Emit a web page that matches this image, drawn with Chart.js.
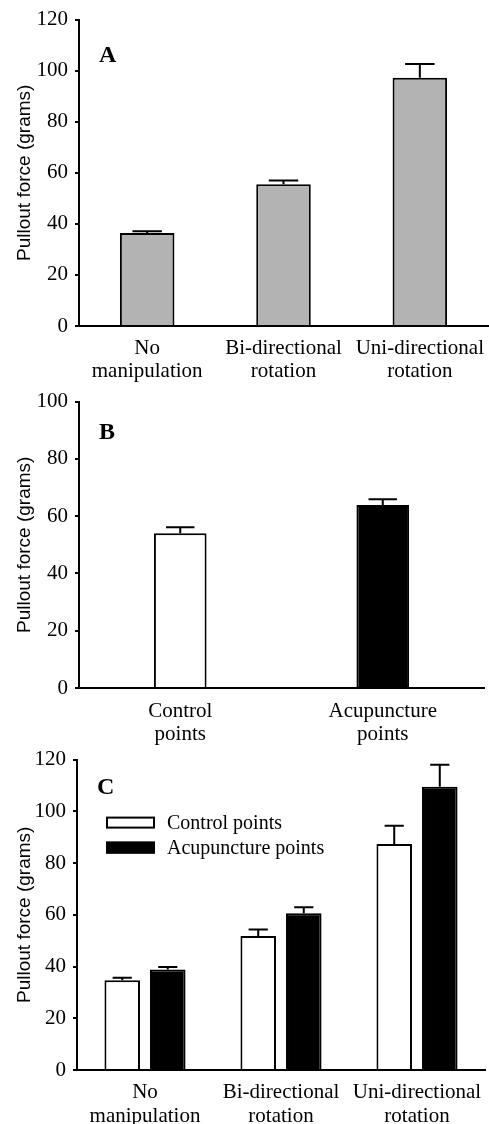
<!DOCTYPE html>
<html lang="en">
<head>
    <meta charset="UTF-8">
    <title>Pullout force</title>
    <script src="https://cdn.jsdelivr.net/npm/chart.js"></script>
    <style>
        body { margin: 0; background: #fff; }
        .panel { position: absolute; left: 0; }
        canvas { display: block; }
    </style>
</head>
<body>
    <div class="panel" style="top:0px"><canvas id="chartA" width="489" height="382"></canvas></div>
    <div class="panel" style="top:382px"><canvas id="chartB" width="489" height="370"></canvas></div>
    <div class="panel" style="top:740px"><canvas id="chartC" width="489" height="384"></canvas></div>

    <script>
        // Panel A: manipulation type
        const labelsA = [['No', 'manipulation'], ['Bi-directional', 'rotation'], ['Uni-directional', 'rotation']];
        const forceA = [36.4, 55.5, 97.2];
        const errA = [0.7, 1.5, 5.4];

        // Panel B: point type
        const labelsB = [['Control', 'points'], ['Acupuncture', 'points']];
        const forceB = [54.0, 63.9];
        const errB = [2.1, 2.0];

        // Panel C: both
        const labelsC = [['No', 'manipulation'], ['Bi-directional', 'rotation'], ['Uni-directional', 'rotation']];
        const controlC = [34.7, 51.8, 87.4];
        const controlErrC = [1.0, 2.5, 7.0];
        const acuC = [38.9, 60.6, 109.5];
        const acuErrC = [0.9, 2.3, 8.5];

        const serif = 'Liberation Serif';

        // upper half error bars drawn off the y scale
        const errorBars = {
            id: 'errorBars',
            afterDatasetsDraw(chart) {
                const ctx = chart.ctx;
                const y = chart.scales.y;
                chart.data.datasets.forEach((ds, i) => {
                    chart.getDatasetMeta(i).data.forEach((bar, j) => {
                        const top = y.getPixelForValue(ds.data[j] + ds.errors[j]);
                        const half = bar.width * 0.27;
                        ctx.save();
                        ctx.strokeStyle = '#000';
                        ctx.lineWidth = 2;
                        ctx.beginPath();
                        ctx.moveTo(bar.x, bar.y);
                        ctx.lineTo(bar.x, top);
                        ctx.moveTo(bar.x - half, top);
                        ctx.lineTo(bar.x + half, top);
                        ctx.stroke();
                        ctx.restore();
                    });
                });
            }
        };

        // the big A / B / C in the corner
        const panelLetter = {
            id: 'panelLetter',
            afterDraw(chart, args, opts) {
                const ctx = chart.ctx;
                ctx.save();
                ctx.fillStyle = '#000';
                ctx.font = 'bold 24px "' + serif + '"';
                ctx.textBaseline = 'alphabetic';
                ctx.fillText(opts.text, chart.chartArea.left + opts.dx, chart.chartArea.top + opts.dy);
                ctx.restore();
            }
        };

        // legend inside the plot, boxes stacked
        const boxLegend = {
            id: 'boxLegend',
            afterDraw(chart, args, opts) {
                if (!opts.show) return;
                const ctx = chart.ctx;
                const x0 = chart.chartArea.left + opts.dx;
                let y0 = chart.chartArea.top + opts.dy;
                ctx.save();
                ctx.font = '20px "' + serif + '"';
                ctx.textBaseline = 'middle';
                chart.data.datasets.forEach(ds => {
                    ctx.fillStyle = ds.backgroundColor;
                    ctx.fillRect(x0, y0, 49, 12);
                    ctx.strokeStyle = '#000';
                    ctx.lineWidth = 2;
                    ctx.strokeRect(x0 + 1, y0 + 1, 47, 10);
                    ctx.fillStyle = '#000';
                    ctx.fillText(ds.label, x0 + 61, y0 + 7);
                    y0 += 25;
                });
                ctx.restore();
            }
        };

        function makeChart(id, labels, datasets, o) {
            return new Chart(document.getElementById(id), {
                type: 'bar',
                data: { labels: labels, datasets: datasets },
                options: {
                    responsive: false,
                    animation: false,
                    layout: { padding: { top: o.padTop, right: o.padRight, left: 0, bottom: 0 } },
                    plugins: {
                        legend: { display: false },
                        tooltip: { enabled: false },
                        panelLetter: { text: o.letter, dx: 20, dy: o.letterY },
                        boxLegend: { show: !!o.legend, dx: 29, dy: 57 }
                    },
                    scales: {
                        x: {
                            grid: { display: false, drawTicks: false },
                            border: { color: '#000', width: 2 },
                            ticks: { color: '#000', font: { family: serif, size: 21, lineHeight: o.lineH }, padding: o.xPad, maxRotation: 0, autoSkip: false },
                            afterFit: s => {
                                s.height = o.bottomH;
                                // labels fit inside their categories, no extra side room
                                s.paddingLeft = 0;
                                s.paddingRight = 0;
                            }
                        },
                        y: {
                            min: 0,
                            max: o.yMax,
                            ticks: { stepSize: 20, color: '#000', font: { family: serif, size: 21 }, padding: 7 },
                            grid: { drawOnChartArea: false, drawTicks: true, tickLength: 4, color: '#000', lineWidth: 2 },
                            border: { color: '#000', width: 2 },
                            title: {
                                display: true,
                                text: 'Pullout force (grams)',
                                color: '#000',
                                font: { family: 'Liberation Sans', size: 19 },
                                padding: { top: 13, bottom: 0 }
                            },
                            afterFit: s => { s.width = o.leftW; }
                        }
                    }
                },
                plugins: [errorBars, panelLetter, boxLegend]
            });
        }

        makeChart('chartA', labelsA, [{
            label: 'Pullout force',
            data: forceA,
            errors: errA,
            backgroundColor: '#b3b3b3',
            borderColor: '#000',
            borderWidth: 2,
            categoryPercentage: 1.0,
            barPercentage: 0.40
        }], { yMax: 120, leftW: 79, bottomH: 56, padTop: 7, padRight: 1, letter: 'A', letterY: 42, xPad: 11, lineH: 1.1 });

        makeChart('chartB', labelsB, [{
            label: 'Pullout force',
            data: forceB,
            errors: errB,
            backgroundColor: ['#ffffff', '#000000'],
            borderColor: '#000',
            borderWidth: 2,
            categoryPercentage: 1.0,
            barPercentage: 0.26
        }], { yMax: 100, leftW: 79, bottomH: 64, padTop: 17, padRight: 5, letter: 'B', letterY: 37, xPad: 12, lineH: 1.1 });

        makeChart('chartC', labelsC, [{
            label: 'Control points',
            data: controlC,
            errors: controlErrC,
            backgroundColor: '#ffffff',
            borderColor: '#000',
            borderWidth: 2,
            categoryPercentage: 0.67,
            barPercentage: 0.78
        }, {
            label: 'Acupuncture points',
            data: acuC,
            errors: acuErrC,
            backgroundColor: '#000000',
            borderColor: '#000',
            borderWidth: 2,
            categoryPercentage: 0.67,
            barPercentage: 0.78
        }], { yMax: 120, leftW: 77, bottomH: 54, padTop: 12, padRight: 4, letter: 'C', letterY: 34, legend: true, xPad: 10, lineH: 1.15 });
    </script>
</body>
</html>
